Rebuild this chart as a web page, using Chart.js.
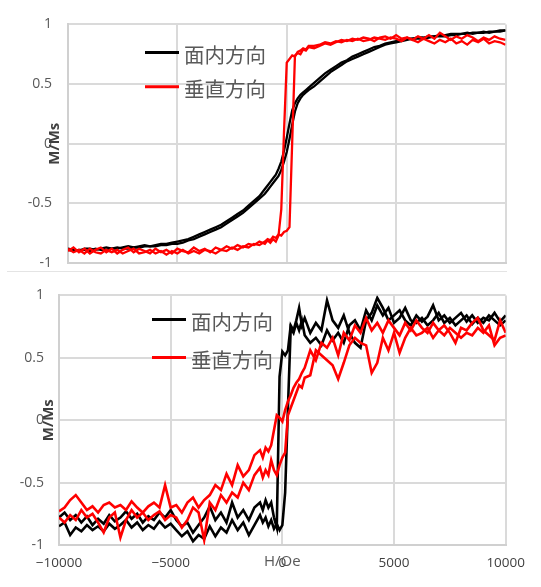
<!DOCTYPE html>
<html><head><meta charset="utf-8">
<script src="https://cdn.jsdelivr.net/npm/chart.js@4.4.1/dist/chart.umd.min.js"></script>
<style>
html,body{margin:0;padding:0;background:#fff;width:541px;height:587px;overflow:hidden;}
#w1{position:absolute;left:0;top:0;width:541px;height:271px;overflow:hidden;}
#c1{position:absolute;left:0;top:0;}
#c2{position:absolute;left:0;top:272px;}
#sep{position:absolute;left:7px;top:271px;width:500px;height:1px;background:#e4e4e4;}
</style></head><body>
<div id="w1"><canvas id="c1" width="541" height="305"></canvas></div>
<div id="sep"></div>
<canvas id="c2" width="541" height="315"></canvas>
<script>
// ---------- data ----------
const LEGEND_LABELS = ['面内方向', '垂直方向'];
const SERIES_COLORS = ['#000000', '#ff0000'];
const Y_TITLE = 'M/Ms';
const X_TITLE = 'H/Oe';
const X_TICKS = [-10000, -5000, 0, 5000, 10000];
const X_TICK_LABELS = ['\u221210000', '\u22125000', '0', '5000', '10000'];
const Y_TICKS = [-1, -0.5, 0, 0.5, 1];
const Y_TICK_LABELS = ['-1', '-0.5', '0', '0.5', '1'];

const H_GRID = [
  -10000,-9750,-9500,-9250,-9000,-8750,-8500,-8250,-8000,-7750,-7500,-7250,-7000,-6750,-6500,-6250,-6000,-5750,-5500,-5250,-5000,-4750,-4500,-4250,-4000,-3750,-3500,-3250,-3000,-2750,-2500,-2250,-2000,-1750,-1500,-1250,
  -1000,-875,-750,-625,-500,-375,-250,-125,0,125,250,375,500,625,750,875,1000,
  1250,1500,1750,2000,2250,2500,2750,3000,3250,3500,3750,4000,4250,4500,4750,5000,5250,5500,5750,6000,6250,6500,6750,7000,7250,7500,7750,8000,8250,8500,8750,9000,9250,9500,9750,10000
];

// top panel, in-plane (black)
const TOP_INPLANE_DESC = [
  -0.88,-0.89,-0.90,-0.88,-0.88,-0.89,-0.88,-0.87,-0.88,-0.88,-0.87,-0.86,-0.87,-0.86,-0.85,-0.86,-0.85,-0.84,-0.84,-0.83,-0.82,-0.81,-0.80,-0.78,-0.76,-0.74,-0.72,-0.70,-0.68,-0.65,-0.62,-0.59,-0.56,-0.52,-0.48,-0.44,
  -0.38,-0.35,-0.32,-0.29,-0.26,-0.21,-0.15,-0.06,0.05,0.17,0.28,0.34,0.38,0.41,0.43,0.45,0.47,
  0.51,0.55,0.59,0.62,0.65,0.68,0.70,0.73,0.75,0.77,0.79,0.81,0.82,0.84,0.85,0.86,0.87,0.88,0.88,0.89,0.89,0.90,0.90,0.91,0.91,0.92,0.92,0.92,0.93,0.92,0.93,0.94,0.93,0.94,0.94,0.95
];
const TOP_INPLANE_ASC = [
  -0.89,-0.90,-0.89,-0.89,-0.90,-0.88,-0.89,-0.89,-0.88,-0.87,-0.88,-0.88,-0.87,-0.87,-0.86,-0.86,-0.86,-0.85,-0.85,-0.84,-0.84,-0.83,-0.81,-0.80,-0.78,-0.76,-0.74,-0.72,-0.70,-0.67,-0.64,-0.61,-0.58,-0.54,-0.50,-0.46,
  -0.42,-0.39,-0.36,-0.33,-0.30,-0.27,-0.22,-0.15,-0.07,0.04,0.16,0.27,0.34,0.38,0.41,0.43,0.45,
  0.48,0.52,0.56,0.60,0.63,0.66,0.69,0.71,0.73,0.75,0.77,0.79,0.81,0.83,0.84,0.85,0.86,0.87,0.88,0.88,0.88,0.89,0.90,0.90,0.90,0.91,0.91,0.92,0.92,0.93,0.93,0.93,0.94,0.94,0.95,0.95
];
// top panel, perpendicular (red)
const TOP_PERP_DESC = [
  -0.90,-0.87,-0.91,-0.88,-0.92,-0.89,-0.87,-0.91,-0.88,-0.92,-0.89,-0.87,-0.91,-0.88,-0.90,-0.92,-0.88,-0.91,-0.89,-0.92,-0.88,-0.90,-0.91,-0.87,-0.90,-0.88,-0.91,-0.87,-0.89,-0.86,-0.88,-0.85,-0.87,-0.84,-0.85,-0.82,
  -0.84,-0.81,-0.83,-0.80,-0.82,-0.77,-0.55,0.10,0.68,0.71,0.74,0.73,0.77,0.78,0.80,0.79,0.82,
  0.82,0.83,0.85,0.84,0.86,0.85,0.87,0.86,0.88,0.86,0.87,0.89,0.88,0.87,0.89,0.88,0.86,0.89,0.87,0.85,0.88,0.86,0.84,0.87,0.85,0.88,0.84,0.86,0.83,0.87,0.85,0.88,0.84,0.86,0.85,0.83
];
const TOP_PERP_ASC = [
  -0.88,-0.91,-0.89,-0.92,-0.88,-0.91,-0.92,-0.89,-0.91,-0.89,-0.92,-0.90,-0.88,-0.92,-0.91,-0.89,-0.92,-0.90,-0.93,-0.90,-0.92,-0.89,-0.92,-0.90,-0.92,-0.89,-0.90,-0.92,-0.89,-0.90,-0.87,-0.89,-0.86,-0.87,-0.84,-0.85,
  -0.82,-0.80,-0.81,-0.78,-0.79,-0.76,-0.77,-0.74,-0.73,-0.70,0.02,0.74,0.76,0.75,0.79,0.78,0.81,
  0.80,0.82,0.84,0.83,0.85,0.87,0.86,0.88,0.87,0.89,0.88,0.86,0.89,0.90,0.88,0.91,0.88,0.89,0.87,0.90,0.88,0.91,0.88,0.93,0.90,0.87,0.90,0.88,0.91,0.89,0.86,0.89,0.87,0.90,0.88,0.87
];

// bottom panel, in-plane (black)
const BOT_INPLANE_DESC = [
  -0.78,-0.74,-0.80,-0.76,-0.82,-0.77,-0.84,-0.79,-0.83,-0.76,-0.81,-0.78,-0.73,-0.79,-0.75,-0.82,-0.77,-0.80,-0.74,-0.78,-0.72,-0.80,-0.85,-0.82,-0.90,-0.84,-0.78,-0.69,-0.80,-0.74,-0.82,-0.66,-0.78,-0.72,-0.80,-0.70,
  -0.66,-0.72,-0.64,-0.70,-0.66,-0.78,-0.86,0.35,0.55,0.52,0.56,0.76,0.72,0.80,0.90,0.76,0.82,
  0.70,0.78,0.72,0.96,0.80,0.74,0.84,0.70,0.62,0.58,0.80,0.86,0.98,0.90,0.80,0.84,0.88,0.80,0.76,0.84,0.79,0.83,0.92,0.80,0.84,0.78,0.82,0.86,0.79,0.84,0.78,0.82,0.80,0.86,0.79,0.84
];
const BOT_INPLANE_ASC = [
  -0.85,-0.82,-0.92,-0.86,-0.89,-0.84,-0.88,-0.85,-0.89,-0.83,-0.87,-0.84,-0.80,-0.86,-0.82,-0.88,-0.84,-0.87,-0.81,-0.86,-0.83,-0.88,-0.93,-0.89,-0.97,-0.92,-0.95,-0.85,-0.93,-0.86,-0.90,-0.80,-0.88,-0.82,-0.92,-0.84,
  -0.76,-0.82,-0.78,-0.85,-0.80,-0.87,-0.83,-0.88,-0.84,-0.58,0.10,0.74,0.70,0.78,0.72,0.80,0.68,
  0.62,0.66,0.60,0.72,0.64,0.70,0.62,0.76,0.80,0.72,0.88,0.80,0.92,0.84,0.90,0.78,0.82,0.90,0.80,0.78,0.82,0.76,0.80,0.86,0.78,0.82,0.76,0.80,0.84,0.77,0.82,0.78,0.84,0.80,0.76,0.80
];
// bottom panel, perpendicular (red)
const BOT_PERP_DESC = [
  -0.73,-0.70,-0.64,-0.60,-0.66,-0.72,-0.69,-0.74,-0.68,-0.66,-0.70,-0.68,-0.72,-0.65,-0.70,-0.74,-0.69,-0.66,-0.70,-0.52,-0.70,-0.68,-0.74,-0.66,-0.62,-0.70,-0.64,-0.60,-0.52,-0.56,-0.43,-0.52,-0.36,-0.45,-0.40,-0.28,
  -0.24,-0.30,-0.22,-0.25,-0.20,-0.08,0.04,0.02,-0.01,0.08,0.15,0.20,0.26,0.30,0.33,0.38,0.42,
  0.56,0.48,0.62,0.58,0.66,0.52,0.70,0.64,0.76,0.70,0.82,0.72,0.78,0.70,0.80,0.74,0.68,0.78,0.72,0.80,0.74,0.70,0.78,0.72,0.76,0.70,0.62,0.74,0.72,0.78,0.82,0.72,0.68,0.64,0.80,0.70
];
const BOT_PERP_ASC = [
  -0.78,-0.82,-0.76,-0.80,-0.72,-0.78,-0.75,-0.82,-0.90,-0.78,-0.74,-0.94,-0.80,-0.72,-0.78,-0.74,-0.80,-0.76,-0.73,-0.80,-0.76,-0.78,-0.86,-0.80,-0.70,-0.74,-0.96,-0.66,-0.72,-0.60,-0.66,-0.58,-0.62,-0.50,-0.56,-0.44,
  -0.38,-0.46,-0.40,-0.44,-0.32,-0.40,-0.44,-0.36,-0.30,-0.26,0.04,0.10,0.16,0.22,0.28,0.26,0.34,
  0.36,0.56,0.52,0.48,0.44,0.33,0.46,0.60,0.66,0.62,0.60,0.38,0.46,0.66,0.56,0.70,0.54,0.66,0.74,0.68,0.70,0.74,0.66,0.72,0.68,0.74,0.70,0.66,0.70,0.68,0.74,0.70,0.76,0.60,0.66,0.68
];

// ---------- rendering ----------
function pts(arr) { return H_GRID.map((h, i) => ({ x: h, y: arr[i] })); }

const overlay = {
  id: 'overlay',
  afterDraw(chart, args, o) {
    const ctx = chart.ctx, a = chart.chartArea;
    const ys = chart.scales.y, xs = chart.scales.x;
    ctx.save();
    LEGEND_LABELS.forEach((lab, i) => {
      const y = a.top + o.legTop + i * o.legGap;
      const x0 = a.left + o.legX;
      ctx.strokeStyle = SERIES_COLORS[i];
      ctx.lineWidth = 3;
      ctx.beginPath(); ctx.moveTo(x0, y); ctx.lineTo(x0 + 34, y); ctx.stroke();
      ctx.fillStyle = '#595959';
      ctx.font = '20.5px "Noto Sans CJK JP"';
      ctx.textBaseline = 'middle'; ctx.textAlign = 'left';
      ctx.fillText(lab, x0 + 39, y + 2.5);
    });
    if (o.xTitle) {
      ctx.font = '15px "Open Sans"';
      ctx.fillStyle = '#595959';
      ctx.textAlign = 'center'; ctx.textBaseline = 'middle';
      ctx.fillText(X_TITLE, xs.getPixelForValue(0), a.bottom + 17);
    }
    ctx.translate(a.left - o.yTitleOff, ys.getPixelForValue(0));
    ctx.rotate(-Math.PI / 2);
    ctx.font = 'bold 15px "Open Sans"';
    ctx.fillStyle = '#404040';
    ctx.textAlign = 'center'; ctx.textBaseline = 'middle';
    ctx.fillText(Y_TITLE, 0, 0);
    ctx.restore();
  }
};

function makeChart(id, cfg) {
  const ds = (arr, color, order) => ({
    data: pts(arr), borderColor: color, borderWidth: cfg.lw, pointRadius: 0,
    tension: 0, fill: false, order: order
  });
  new Chart(document.getElementById(id), {
    type: 'line',
    data: {
      datasets: [
        ds(cfg.red[0], SERIES_COLORS[1], 0),
        ds(cfg.red[1], SERIES_COLORS[1], 0),
        ds(cfg.black[0], SERIES_COLORS[0], 1),
        ds(cfg.black[1], SERIES_COLORS[0], 1)
      ]
    },
    options: {
      responsive: false, animation: false, devicePixelRatio: 1,
      layout: { padding: { left: 0, right: cfg.padR, top: cfg.padT, bottom: 0 } },
      plugins: { legend: { display: false }, tooltip: { enabled: false }, overlay: cfg.overlay },
      scales: {
        x: {
          type: 'linear', min: -10000, max: 10000,
          afterBuildTicks: s => { s.ticks = X_TICKS.map(v => ({ value: v })); },
          afterFit: s => { s.height = cfg.xH; },
          ticks: {
            display: true, autoSkip: false, maxRotation: 0, padding: 10,
            color: '#404040', font: { family: 'Open Sans', size: 13.5 },
            callback: (v, i) => X_TICK_LABELS[i]
          },
          grid: { color: '#dadada', lineWidth: 2, drawTicks: false },
          border: { color: '#d0d0d0', width: 2 }
        },
        y: {
          min: -1, max: 1,
          afterBuildTicks: s => { s.ticks = Y_TICKS.map(v => ({ value: v })); },
          afterFit: s => { s.width = cfg.yW; },
          ticks: {
            padding: cfg.yPad, color: '#595959', font: { family: 'Open Sans', size: 14 },
            callback: (v, i) => Y_TICK_LABELS[i]
          },
          grid: { color: '#dadada', lineWidth: 2, drawTicks: false },
          border: { color: '#d0d0d0', width: 2 }
        }
      }
    },
    plugins: [overlay]
  });
}

makeChart('c1', {
  red: [TOP_PERP_DESC, TOP_PERP_ASC], black: [TOP_INPLANE_DESC, TOP_INPLANE_ASC],
  lw: 2.3, padR: 35.5, padT: 16, xH: 42, yW: 68, yPad: 16,
  overlay: { legX: 77, legTop: 28, legGap: 34.3, yTitleOff: 13, xTitle: false }
});
makeChart('c2', {
  red: [BOT_PERP_DESC, BOT_PERP_ASC], black: [BOT_INPLANE_DESC, BOT_INPLANE_ASC],
  lw: 2.6, padR: 35.3, padT: 20, xH: 42, yW: 59, yPad: 15,
  overlay: { legX: 93, legTop: 24, legGap: 38, yTitleOff: 10.7, xTitle: true }
});
</script></body></html>
